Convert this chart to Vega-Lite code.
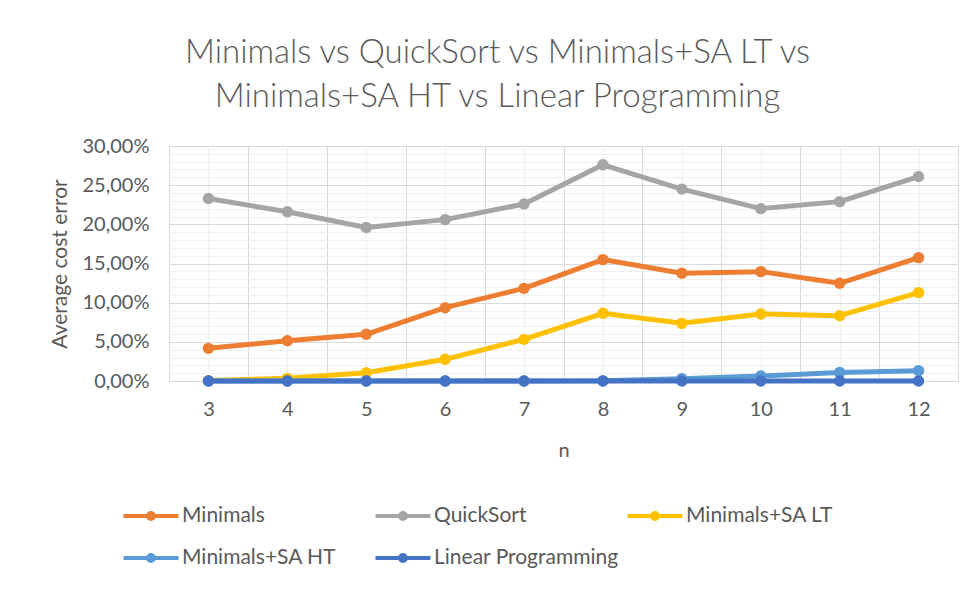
{
  "$schema": "https://vega.github.io/schema/vega-lite/v6.json",
  "autosize": "none",
  "width": 789,
  "height": 235,
  "padding": {"left": 169, "top": 146, "right": 20, "bottom": 208},
  "background": "white",
  "title": {
    "text": ["Minimals vs QuickSort vs Minimals+SA LT vs", "Minimals+SA HT vs Linear Programming"],
    "frame": "group",
    "anchor": "middle",
    "dx": -66,
    "offset": 22,
    "font": "Lato",
    "fontWeight": 300,
    "fontSize": 33,
    "lineHeight": 44,
    "color": "#595959"
  },
  "data": {
    "values": [
      {"n": 3, "series": "Minimals", "value": 0.0417},
      {"n": 4, "series": "Minimals", "value": 0.0515},
      {"n": 5, "series": "Minimals", "value": 0.0596},
      {"n": 6, "series": "Minimals", "value": 0.0936},
      {"n": 7, "series": "Minimals", "value": 0.1183},
      {"n": 8, "series": "Minimals", "value": 0.155},
      {"n": 9, "series": "Minimals", "value": 0.1375},
      {"n": 10, "series": "Minimals", "value": 0.1396},
      {"n": 11, "series": "Minimals", "value": 0.1247},
      {"n": 12, "series": "Minimals", "value": 0.1575},
      {"n": 3, "series": "QuickSort", "value": 0.233},
      {"n": 4, "series": "QuickSort", "value": 0.216},
      {"n": 5, "series": "QuickSort", "value": 0.196},
      {"n": 6, "series": "QuickSort", "value": 0.206},
      {"n": 7, "series": "QuickSort", "value": 0.226},
      {"n": 8, "series": "QuickSort", "value": 0.276},
      {"n": 9, "series": "QuickSort", "value": 0.245},
      {"n": 10, "series": "QuickSort", "value": 0.22},
      {"n": 11, "series": "QuickSort", "value": 0.229},
      {"n": 12, "series": "QuickSort", "value": 0.261},
      {"n": 3, "series": "Minimals+SA LT", "value": 0.0005},
      {"n": 4, "series": "Minimals+SA LT", "value": 0.0034},
      {"n": 5, "series": "Minimals+SA LT", "value": 0.0106},
      {"n": 6, "series": "Minimals+SA LT", "value": 0.0277},
      {"n": 7, "series": "Minimals+SA LT", "value": 0.0532},
      {"n": 8, "series": "Minimals+SA LT", "value": 0.0864},
      {"n": 9, "series": "Minimals+SA LT", "value": 0.0736},
      {"n": 10, "series": "Minimals+SA LT", "value": 0.0855},
      {"n": 11, "series": "Minimals+SA LT", "value": 0.0834},
      {"n": 12, "series": "Minimals+SA LT", "value": 0.1128},
      {"n": 3, "series": "Minimals+SA HT", "value": 0},
      {"n": 4, "series": "Minimals+SA HT", "value": 0},
      {"n": 5, "series": "Minimals+SA HT", "value": 0},
      {"n": 6, "series": "Minimals+SA HT", "value": 0},
      {"n": 7, "series": "Minimals+SA HT", "value": 0},
      {"n": 8, "series": "Minimals+SA HT", "value": 0.0002},
      {"n": 9, "series": "Minimals+SA HT", "value": 0.003},
      {"n": 10, "series": "Minimals+SA HT", "value": 0.0064},
      {"n": 11, "series": "Minimals+SA HT", "value": 0.011},
      {"n": 12, "series": "Minimals+SA HT", "value": 0.0132},
      {"n": 3, "series": "Linear Programming", "value": 0},
      {"n": 4, "series": "Linear Programming", "value": 0},
      {"n": 5, "series": "Linear Programming", "value": 0},
      {"n": 6, "series": "Linear Programming", "value": 0},
      {"n": 7, "series": "Linear Programming", "value": 0},
      {"n": 8, "series": "Linear Programming", "value": 0},
      {"n": 9, "series": "Linear Programming", "value": 0},
      {"n": 10, "series": "Linear Programming", "value": 0},
      {"n": 11, "series": "Linear Programming", "value": 0},
      {"n": 12, "series": "Linear Programming", "value": 0}
    ]
  },
  "layer": [
    {
      "mark": {"type": "point", "opacity": 0},
      "encoding": {
        "x": {
          "field": "n", "type": "quantitative",
          "scale": {"domain": [2.5, 12.5], "nice": false, "zero": false},
          "axis": {"orient": "top", "values": [2.5, 3.5, 4.5, 5.5, 6.5, 7.5, 8.5, 9.5, 10.5, 11.5, 12.5], "grid": true, "gridColor": "#d9d9d9", "gridWidth": 1, "labels": false, "ticks": false, "domain": false, "title": null}
        },
        "y": {
          "field": "value", "type": "quantitative",
          "scale": {"domain": [0, 0.3], "nice": false},
          "axis": {"orient": "right", "values": [0.01, 0.02, 0.03, 0.04, 0.06, 0.07, 0.08, 0.09, 0.11, 0.12, 0.13, 0.14, 0.16, 0.17, 0.18, 0.19, 0.21, 0.22, 0.23, 0.24, 0.26, 0.27, 0.28, 0.29], "grid": true, "gridColor": "#efefef", "gridWidth": 1, "labels": false, "ticks": false, "domain": false, "title": null}
        }
      }
    },
    {
      "mark": {"type": "line", "strokeWidth": 5, "strokeCap": "round", "strokeJoin": "round"},
      "encoding": {
        "x": {
          "field": "n", "type": "quantitative",
          "axis": {"orient": "bottom", "values": [3, 4, 5, 6, 7, 8, 9, 10, 11, 12], "format": "d", "grid": true, "gridColor": "#efefef", "ticks": false, "domain": true, "domainColor": "#d9d9d9", "labelPadding": 18, "labelFont": "Lato", "labelFontSize": 20, "labelColor": "#595959", "title": "n", "titleFont": "Lato", "titleFontSize": 20, "titleFontWeight": "normal", "titleColor": "#595959", "titlePadding": 21}
        },
        "y": {
          "field": "value", "type": "quantitative",
          "axis": {"orient": "left", "values": [0, 0.05, 0.1, 0.15, 0.2, 0.25, 0.3], "format": ".2%", "grid": true, "gridColor": "#d9d9d9", "ticks": false, "domain": false, "labelPadding": 20, "labelFont": "Lato", "labelFontSize": 20, "labelColor": "#595959", "title": "Average cost error", "titleFont": "Lato", "titleFontSize": 21, "titleFontWeight": "normal", "titleColor": "#595959", "titlePadding": 12}
        },
        "color": {
          "field": "series", "type": "nominal",
          "scale": {"domain": ["Minimals", "QuickSort", "Minimals+SA LT", "Minimals+SA HT", "Linear Programming"], "range": ["#ED7D31", "#A5A5A5", "#FFC000", "#5B9BD5", "#4472C4"]},
          "legend": {
            "orient": "none", "legendX": -32, "legendY": 356,
            "direction": "horizontal", "columns": 3, "gridAlign": "all",
            "title": null, "padding": 0,
            "symbolType": "M-2,-0.15H2V0.15H-2Z M0.36,0A0.36,0.36,0,1,1,-0.36,0A0.36,0.36,0,1,1,0.36,0Z",
            "symbolSize": 756, "symbolStrokeWidth": 0, "symbolOpacity": 1,
            "labelOffset": 17, "labelFont": "Lato", "labelFontSize": 21, "labelColor": "#595959", "labelLimit": 400,
            "columnPadding": 8, "rowPadding": 18
          }
        }
      }
    },
    {
      "mark": {"type": "point", "filled": true, "opacity": 1, "size": 130},
      "encoding": {
        "x": {"field": "n", "type": "quantitative", "axis": null},
        "y": {"field": "value", "type": "quantitative", "axis": null},
        "color": {
          "field": "series", "type": "nominal",
          "legend": {
            "orient": "none", "legendX": -32, "legendY": 356,
            "direction": "horizontal", "columns": 3, "gridAlign": "all",
            "title": null, "padding": 0,
            "symbolType": "M-2,-0.15H2V0.15H-2Z M0.36,0A0.36,0.36,0,1,1,-0.36,0A0.36,0.36,0,1,1,0.36,0Z",
            "symbolSize": 756, "symbolStrokeWidth": 0, "symbolOpacity": 1,
            "labelOffset": 17, "labelFont": "Lato", "labelFontSize": 21, "labelColor": "#595959", "labelLimit": 400,
            "columnPadding": 8, "rowPadding": 18
          }
        }
      }
    }
  ],
  "resolve": {"axis": {"x": "independent", "y": "independent"}},
  "config": {
    "locale": {"number": {"decimal": ",", "thousands": ".", "grouping": [3], "currency": ["", " €"]}},
    "view": {"stroke": "#d9d9d9"}
  }
}
